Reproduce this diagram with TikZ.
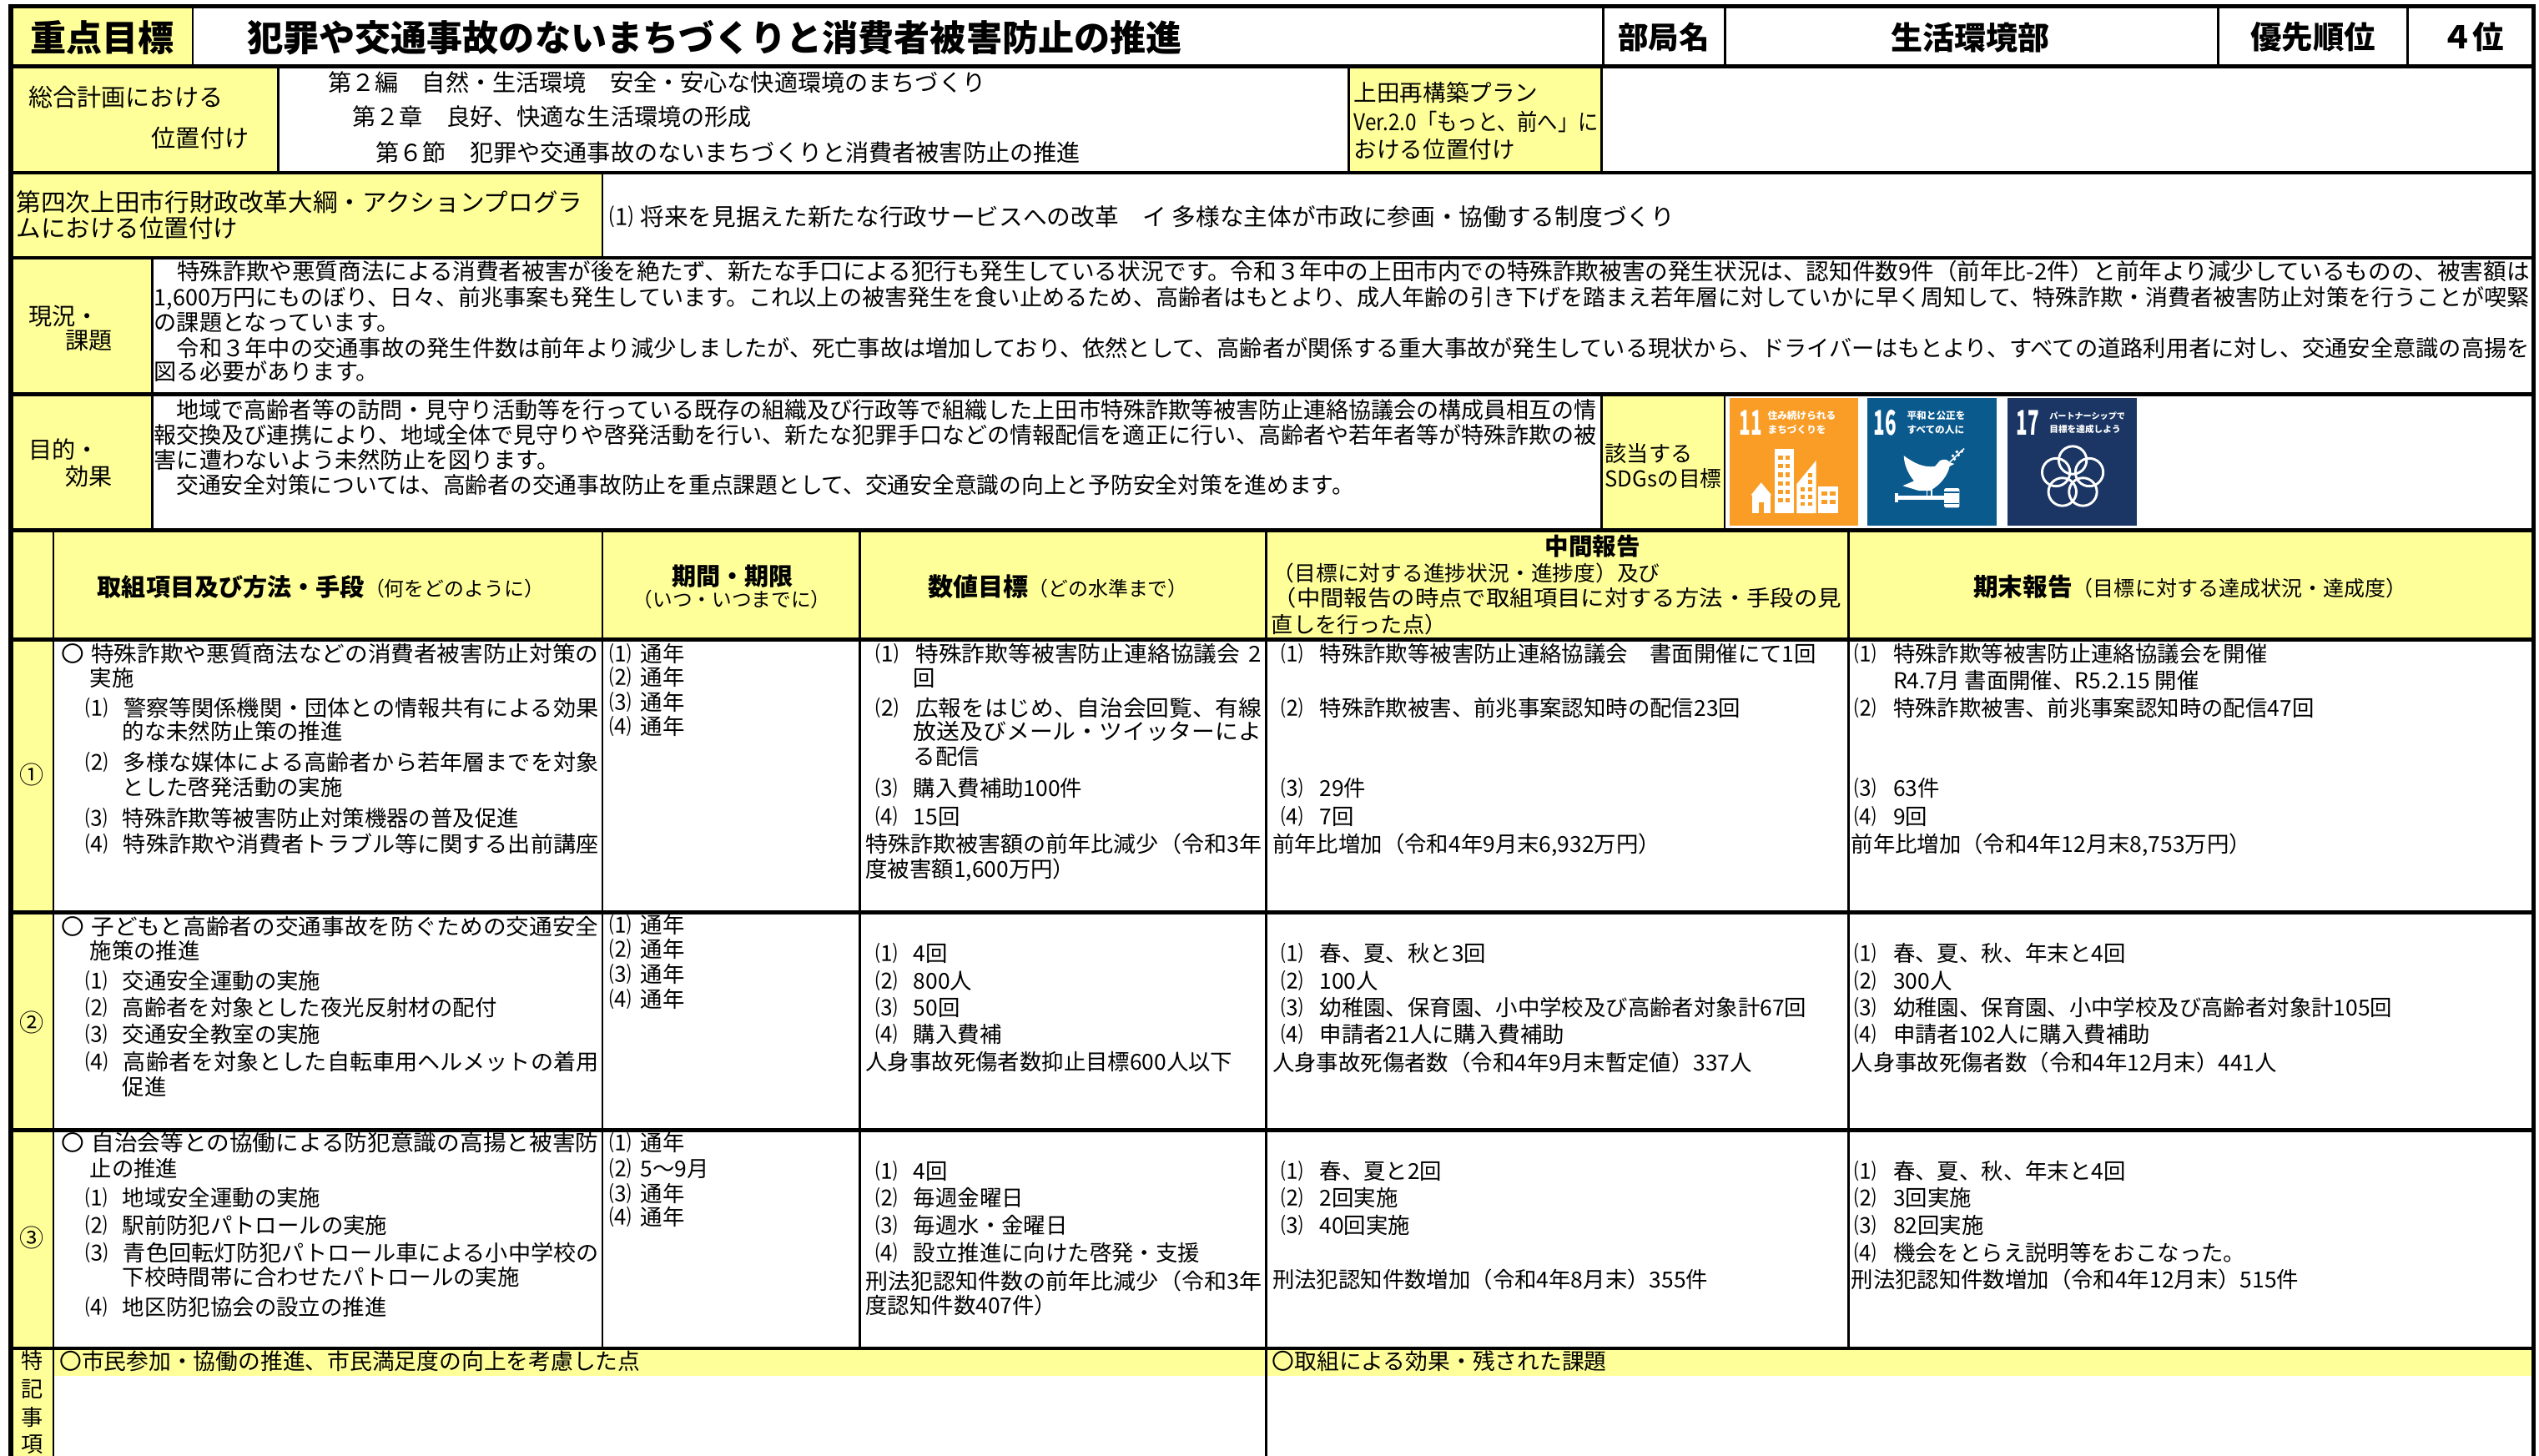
\documentclass[tikz,border=0pt]{standalone}
\usepackage{fontspec}
\setmainfont{Noto Sans CJK JP}
\usepackage{graphicx}
\definecolor{yel}{HTML}{FFFF99}
\definecolor{sdgA}{HTML}{F99D26}
\definecolor{sdgB}{HTML}{0B5A8E}
\definecolor{sdgC}{HTML}{1B3664}
\newcounter{tln}
\newlength\fitw
\newcommand\fitto[2]{\settowidth\fitw{#2}\pgfmathsetmacro\fitr{(#1)/\fitw}\scalebox{\fitr}[1]{#2}}
\newcommand\mkb[2]{\makebox[#1pt][l]{#2}}
\newcommand\txl[4][]{\stepcounter{tln}\node[tx,#1] (n\the\value{tln}) at (#2,#3) {#4};}
\newcommand\txf[5][]{\stepcounter{tln}\node[tx,#1] (n\the\value{tln}) at (#2,#3) {\fitto{#4-#2}{#5}};}
\tikzset{
  fs/.code={\pgfmathsetmacro\fsh{0.88*#1}\pgfmathsetmacro\fsd{0.12*#1}\tikzset{font=\fontsize{#1}{#1}\selectfont,text height=\fsh pt,text depth=\fsd pt}},
  tx/.style={anchor=west,inner sep=0pt,fs=13.6},
  tc/.style={anchor=center},
  thk/.style={line width=2.2pt},
  thn/.style={line width=1.4pt},
  outer/.style={line width=2.6pt},
  icn/.style={text=white,inner sep=0pt,anchor=center,font=\fontsize{21}{21}\selectfont\bfseries},
  icsm/.style={text=white,inner sep=0pt,anchor=west,font=\fontsize{6}{6}\selectfont\bfseries},
}
\begin{document}
\begin{tikzpicture}[x=1pt,y=-1pt]
\useasboundingbox (0,0) rectangle (1568,899);
\fill[white] (0,0) rectangle (1568,899);
% ---------- yellow fills
\fill[yel] (6.7,4) rectangle (119,41);
\fill[yel] (6.7,41) rectangle (172,106.5);
\fill[yel] (833,41) rectangle (989,106.5);
\fill[yel] (6.7,106.5) rectangle (372,159.4);
\fill[yel] (6.7,159.4) rectangle (94,243.5);
\fill[yel] (6.7,243.5) rectangle (94,327.5);
\fill[yel] (989,243.5) rectangle (1065,327.5);
\fill[yel] (6.7,327.5) rectangle (1564.5,395);
\fill[yel] (6.7,395) rectangle (33,899);
\fill[yel] (33,832.6) rectangle (1564.5,849.5);
% ---------- SDG icons
\fill[sdgA] (1068,245.8) rectangle (1147.5,324.6);
\fill[sdgB] (1153,245.8) rectangle (1233,324.6);
\fill[sdgC] (1240,245.8) rectangle (1319.5,324.6);
\node[icn] (g11) at (1081.3,261.3) {\scalebox{0.55}[1]{11}};
\node[icsm] (g11a) at (1091.5,256.8) {住み続けられる};
\node[icsm] (g11b) at (1091.5,265.3) {まちづくりを};
\node[icn] (g16) at (1164.2,261.3) {\scalebox{0.55}[1]{16}};
\node[icsm] (g16a) at (1177.5,256.8) {平和と公正を};
\node[icsm] (g16b) at (1177.5,265.3) {すべての人に};
\node[icn] (g17) at (1252.2,261.3) {\scalebox{0.55}[1]{17}};
\node[icsm,font=\fontsize{5.2}{5.2}\selectfont\bfseries] (g17a) at (1265.5,256.8) {パートナーシップで};
\node[icsm,font=\fontsize{5.5}{5.5}\selectfont\bfseries] (g17b) at (1265.5,265.3) {目標を達成しよう};
% icon 11 pictogram
\fill[white] (1081.3,305.8) -- (1087.6,298) -- (1094.1,305.8) -- cycle;
\fill[white] (1082.2,305.5) rectangle (1093.2,316.9);
\fill[sdgA] (1086,310) rectangle (1089.3,316.9);
\fill[white] (1095.9,277.4) rectangle (1107.9,316.9);
\foreach \yy in {281.5,286.7,291.9,297.1,302.3,307.5}{
  \fill[sdgA] (1098.3,\yy) rectangle ++(2.6,2.6);
  \fill[sdgA] (1102.9,\yy) rectangle ++(2.6,2.6);}
\fill[white] (1109.6,298.9) -- (1121.6,284.3) -- (1121.6,316.9) -- (1109.6,316.9) -- cycle;
\foreach \yy in {301,305.5,310}{
  \fill[sdgA] (1111.8,\yy) rectangle ++(2.5,2.5);
  \fill[sdgA] (1116.5,\yy) rectangle ++(2.5,2.5);}
\fill[sdgA] (1116.5,292) rectangle ++(2.5,2.5);
\fill[sdgA] (1116.5,296.5) rectangle ++(2.5,2.5);
\fill[white] (1123,300.6) rectangle (1135.4,316.9);
\foreach \yy in {303.5,308.5}{
  \fill[sdgA] (1124.8,\yy) rectangle ++(3.6,2.6);
  \fill[sdgA] (1130,\yy) rectangle ++(3.6,2.6);}
% icon 16 pictogram
\fill[white] (1175.7,281.4) .. controls (1182,286) and (1188,289) .. (1195,288)
  -- (1198,284.5) .. controls (1201,283) and (1203,284) .. (1204,285.5) -- (1207,286.5) -- (1204,288)
  .. controls (1203,293) and (1199,299) .. (1192,303) -- (1185,303) -- (1175,300) -- (1182,297)
  .. controls (1178,292) and (1176,287) .. cycle;
\draw[white,line width=0.8pt] (1204,285.5) -- (1213,277);
\foreach \px/\py in {1207/283.5,1209.5/281,1211.5/278.8,1206/281.5,1208.5/279}
  \fill[white] (\px,\py) circle (1pt);
\draw[white,line width=0.9pt] (1190,302) -- (1190,306.5) (1193,302) -- (1193,306.5);
\fill[white] (1171.5,306.1) rectangle (1200.7,308.9);
\fill[white] (1170.3,304.6) rectangle (1172.5,310.4);
\fill[white,rounded corners=0.8pt] (1200.7,301.5) rectangle (1210.1,313.5);
\fill[sdgB] (1200.7,303.6) rectangle (1210.1,304.4);
\fill[sdgB] (1200.7,310.6) rectangle (1210.1,311.4);
% icon 17 pictogram
\foreach \a in {90,162,234,306,18}
  \draw[white,line width=1.5pt] ({1280+10.8*cos(\a)},{295-10.8*sin(\a)}) circle (8.6pt);
% ---------- lines
\foreach \y in {41,106.5,159.4,243.5,327.5,395,563.4,698,832.6}
  \draw[thk] (6.7,\y) -- (1564.5,\y);
\foreach \x in {119,990,1065.5,1370,1487} \draw[thn] (\x,4) -- (\x,41);
\foreach \x in {172,833,989} \draw[thn] (\x,41) -- (\x,106.5);
\draw[thn] (372,106.5) -- (372,159.4);
\draw[thn] (94,159.4) -- (94,327.5);
\draw[thn] (989,243.5) -- (989,327.5);
\draw[thn] (1065,243.5) -- (1065,327.5);
\draw[thn] (33,327.5) -- (33,899);
\draw[thn] (782,327.5) -- (782,899);
\foreach \x in {372,531,1141.5} \draw[thn] (\x,327.5) -- (\x,832.6);
\draw[outer] (6.7,899) -- (6.7,4) -- (1564.5,4) -- (1564.5,899);
% ---------- row 1
\txl[tc,fs=22.2]{63}{23}{\bfseries 重点目標}
\txl[fs=22.2]{152.5}{23}{\bfseries 犯罪や交通事故のないまちづくりと消費者被害防止の推進}
\txl[tc,fs=18.8]{1027.5}{23}{\bfseries 部局名}
\txl[tc,fs=19.6]{1217}{23}{\bfseries 生活環境部}
\txl[tc,fs=19.3]{1428.5}{23}{\bfseries 優先順位}
\txl[tc,fs=19.3]{1527}{23}{\bfseries ４位}
% ---------- row 2
\txl[fs=15]{17.5}{60}{総合計画における}
\txl[fs=15]{93.5}{85}{位置付け}
\txl[fs=14.5]{202.5}{50.7}{第２編　自然・生活環境　安全・安心な快適環境のまちづくり}
\txl[fs=14.5]{217.5}{72}{第２章　良好、快適な生活環境の形成}
\txl[fs=14.5]{232}{94}{第６節　犯罪や交通事故のないまちづくりと消費者被害防止の推進}
\txl[fs=14.2]{836}{57}{上田再構築プラン}
\txf[fs=14.2]{836}{75}{987}{Ver.2.0「もっと、前へ」に}
\txl[fs=14.2]{836}{92}{おける位置付け}
% ---------- row 3
\txf[fs=15.2]{10}{125}{359.6}{第四次上田市行財政改革大綱・アクションプログラ}
\txl[fs=15.2]{10}{141}{ムにおける位置付け}
\txf[fs=14.6]{376}{134}{1034}{\mkb{19}{⑴}将来を見据えた新たな行政サービスへの改革　イ 多様な主体が市政に参画・協働する制度づくり}
% ---------- 現況・課題
\txl[fs=14.5]{17.5}{195}{現況・}
\txl[fs=14.5]{40}{210}{課題}
\txf[fs=14]{95}{167.5}{1562}{　特殊詐欺や悪質商法による消費者被害が後を絶たず、新たな手口による犯行も発生している状況です。令和３年中の上田市内での特殊詐欺被害の発生状況は、認知件数9件（前年比-2件）と前年より減少しているものの、被害額は}
\txf[fs=14]{95}{183.4}{1562}{1,600万円にものぼり、日々、前兆事案も発生しています。これ以上の被害発生を食い止めるため、高齢者はもとより、成人年齢の引き下げを踏まえ若年層に対していかに早く周知して、特殊詐欺・消費者被害防止対策を行うことが喫緊}
\txl[fs=14]{95}{199.2}{の課題となっています。}
\txf[fs=14]{95}{215.2}{1562}{　令和３年中の交通事故の発生件数は前年より減少しましたが、死亡事故は増加しており、依然として、高齢者が関係する重大事故が発生している現状から、ドライバーはもとより、すべての道路利用者に対し、交通安全意識の高揚を}
\txl[fs=14]{95}{229.3}{図る必要があります。}
% ---------- 目的・効果
\txl[fs=14.5]{17.5}{277.5}{目的・}
\txl[fs=14.5]{40}{294}{効果}
\txf[fs=14]{95}{253}{986}{　地域で高齢者等の訪問・見守り活動等を行っている既存の組織及び行政等で組織した上田市特殊詐欺等被害防止連絡協議会の構成員相互の情}
\txf[fs=14]{95}{268.5}{986}{報交換及び連携により、地域全体で見守りや啓発活動を行い、新たな犯罪手口などの情報配信を適正に行い、高齢者や若年者等が特殊詐欺の被}
\txl[fs=14]{95}{284}{害に遭わないよう未然防止を図ります。}
\txf[fs=14]{95}{299.5}{836}{　交通安全対策については、高齢者の交通事故防止を重点課題として、交通安全意識の向上と予防安全対策を進めます。}
\txl[fs=13.5]{991}{280}{該当する}
\txf[fs=13.5]{991}{295.5}{1063}{SDGsの目標}
% ---------- header
\txl[fs=15]{60}{362.4}{\textbf{取組項目及び方法・手段}{\fontsize{12.3}{12.3}\selectfont （何をどのように）}}
\txl[tc,fs=15]{452.5}{355.7}{\textbf{期間・期限}}
\txl[tc,fs=12.2]{452}{370.1}{（いつ・いつまでに）}
\txl[fs=15.5]{573}{362.4}{\textbf{数値目標}{\fontsize{12.3}{12.3}\selectfont （どの水準まで）}}
\txl[tc,fs=14.7]{983.5}{337.5}{\textbf{中間報告}}
\txf[fs=13]{786}{353.8}{1025}{（目標に対する進捗状況・進捗度）及び}
\txf[fs=13.5]{786}{369.3}{1137}{（中間報告の時点で取組項目に対する方法・手段の見}
\txl[fs=13.5]{785}{385.6}{直しを行った点）}
\txl[fs=15.3]{1218.5}{362.4}{\textbf{期末報告}{\fontsize{12.9}{12.9}\selectfont （目標に対する達成状況・達成度）}}
% ---------- number column
\txl[tc,fs=15]{19.8}{478.3}{①}
\txl[tc,fs=15]{19.8}{631.4}{②}
\txl[tc,fs=15]{19.8}{764.5}{③}
\txl[tc,fs=13.5]{19.8}{840}{特}
\txl[tc,fs=13.5]{19.8}{857.5}{記}
\txl[tc,fs=13.5]{19.8}{875}{事}
\txl[tc,fs=13.5]{19.8}{891.6}{項}
% ---------- row 1 (①)
\txf{37.7}{403.6}{369.5}{\mkb{17.6}{〇}特殊詐欺や悪質商法などの消費者被害防止対策の}
\txl{55.3}{418.8}{実施}
\txf{52.7}{437.1}{369.5}{\mkb{22.7}{⑴}警察等関係機関・団体との情報共有による効果}
\txl{75.4}{451.7}{的な未然防止策の推進}
\txf{52.7}{470.6}{369.5}{\mkb{22.7}{⑵}多様な媒体による高齢者から若年層までを対象}
\txl{75.4}{486.1}{とした啓発活動の実施}
\txl{52.7}{505}{\mkb{22.7}{⑶}特殊詐欺等被害防止対策機器の普及促進}
\txf{52.7}{521.3}{369.5}{\mkb{22.7}{⑷}特殊詐欺や消費者トラブル等に関する出前講座}
\txl{376}{403.6}{\mkb{19.5}{⑴}通年}
\txl{376}{418.2}{\mkb{19.5}{⑵}通年}
\txl{376}{433.7}{\mkb{19.5}{⑶}通年}
\txl{376}{448.3}{\mkb{19.5}{⑷}通年}
\txf{540.4}{403.6}{779}{\mkb{23.6}{⑴}特殊詐欺等被害防止連絡協議会\kern5pt 2}
\txl{564}{418.8}{回}
\txf{540.4}{437.1}{779}{\mkb{23.6}{⑵}広報をはじめ、自治会回覧、有線}
\txf{564}{451.7}{779}{放送及びメール・ツイッターによ}
\txl{564}{467.2}{る配信}
\txl{540.4}{486.9}{\mkb{23.6}{⑶}購入費補助100件}
\txl{540.4}{504.1}{\mkb{23.6}{⑷}15回}
\txf{534.4}{521.3}{779}{特殊詐欺被害額の前年比減少（令和3年}
\txl{534.4}{536.7}{度被害額1,600万円）}
\txl{790.8}{403.6}{\mkb{24}{⑴}特殊詐欺等被害防止連絡協議会　書面開催にて1回}
\txl{790.8}{437.1}{\mkb{24}{⑵}特殊詐欺被害、前兆事案認知時の配信23回}
\txl{790.8}{486.9}{\mkb{24}{⑶}29件}
\txl{790.8}{504.1}{\mkb{24}{⑷}7回}
\txl{785.7}{521.3}{前年比増加（令和4年9月末6,932万円）}
\txl{1145}{403.6}{\mkb{24}{⑴}特殊詐欺等被害防止連絡協議会を開催}
\txl{1169}{420.1}{R4.7月 書面開催、R5.2.15 開催}
\txl{1145}{437.1}{\mkb{24}{⑵}特殊詐欺被害、前兆事案認知時の配信47回}
\txl{1145}{486.9}{\mkb{24}{⑶}63件}
\txl{1145}{504.1}{\mkb{24}{⑷}9回}
\txl{1143}{521.3}{前年比増加（令和4年12月末8,753万円）}
% ---------- row 2 (②)
\txf{37.7}{572.4}{369.5}{\mkb{17.6}{〇}子どもと高齢者の交通事故を防ぐための交通安全}
\txl{55.3}{587}{施策の推進}
\txl{52.7}{605.7}{\mkb{22.7}{⑴}交通安全運動の実施}
\txl{52.7}{622.4}{\mkb{22.7}{⑵}高齢者を対象とした夜光反射材の配付}
\txl{52.7}{638.9}{\mkb{22.7}{⑶}交通安全教室の実施}
\txf{52.7}{655.7}{369.5}{\mkb{22.7}{⑷}高齢者を対象とした自転車用ヘルメットの着用}
\txl{75.4}{671.1}{促進}
\txl{376}{571.3}{\mkb{19.5}{⑴}通年}
\txl{376}{586.3}{\mkb{19.5}{⑵}通年}
\txl{376}{601.4}{\mkb{19.5}{⑶}通年}
\txl{376}{617}{\mkb{19.5}{⑷}通年}
\txl{540.4}{588.5}{\mkb{23.6}{⑴}4回}
\txl{540.4}{605.7}{\mkb{23.6}{⑵}800人}
\txl{540.4}{622.4}{\mkb{23.6}{⑶}50回}
\txl{540.4}{638.9}{\mkb{23.6}{⑷}購入費補}
\txl{534.4}{655.7}{人身事故死傷者数抑止目標600人以下}
\txl{790.8}{588.5}{\mkb{24}{⑴}春、夏、秋と3回}
\txl{790.8}{605.7}{\mkb{24}{⑵}100人}
\txl{790.8}{622.4}{\mkb{24}{⑶}幼稚園、保育園、小中学校及び高齢者対象計67回}
\txl{790.8}{638.9}{\mkb{24}{⑷}申請者21人に購入費補助}
\txl{785.7}{656}{人身事故死傷者数（令和4年9月末暫定値）337人}
\txl{1145}{588.5}{\mkb{24}{⑴}春、夏、秋、年末と4回}
\txl{1145}{605.7}{\mkb{24}{⑵}300人}
\txl{1145}{622.4}{\mkb{24}{⑶}幼稚園、保育園、小中学校及び高齢者対象計105回}
\txl{1145}{638.9}{\mkb{24}{⑷}申請者102人に購入費補助}
\txl{1143}{656}{人身事故死傷者数（令和4年12月末）441人}
% ---------- row 3 (③)
\txf{37.7}{705.9}{369.5}{\mkb{17.6}{〇}自治会等との協働による防犯意識の高揚と被害防}
\txl{55.3}{721.6}{止の推進}
\txl{52.7}{739.9}{\mkb{22.7}{⑴}地域安全運動の実施}
\txl{52.7}{756.6}{\mkb{22.7}{⑵}駅前防犯パトロールの実施}
\txf{52.7}{773.8}{369.5}{\mkb{22.7}{⑶}青色回転灯防犯パトロール車による小中学校の}
\txl{75.4}{788.8}{下校時間帯に合わせたパトロールの実施}
\txl{52.7}{807.4}{\mkb{22.7}{⑷}地区防犯協会の設立の推進}
\txl{376}{705.9}{\mkb{19.5}{⑴}通年}
\txl{376}{721.6}{\mkb{19.5}{⑵}5～9月}
\txl{376}{737.3}{\mkb{19.5}{⑶}通年}
\txl{376}{751.7}{\mkb{19.5}{⑷}通年}
\txl{540.4}{723.1}{\mkb{23.6}{⑴}4回}
\txl{540.4}{739.9}{\mkb{23.6}{⑵}毎週金曜日}
\txl{540.4}{756.6}{\mkb{23.6}{⑶}毎週水・金曜日}
\txl{540.4}{773.8}{\mkb{23.6}{⑷}設立推進に向けた啓発・支援}
\txf{534.4}{791}{779}{刑法犯認知件数の前年比減少（令和3年}
\txl{534.4}{806}{度認知件数407件）}
\txl{790.8}{723.1}{\mkb{24}{⑴}春、夏と2回}
\txl{790.8}{739.9}{\mkb{24}{⑵}2回実施}
\txl{790.8}{756.6}{\mkb{24}{⑶}40回実施}
\txl{785.7}{790}{刑法犯認知件数増加（令和4年8月末）355件}
\txl{1145}{723.1}{\mkb{24}{⑴}春、夏、秋、年末と4回}
\txl{1145}{739.9}{\mkb{24}{⑵}3回実施}
\txl{1145}{756.6}{\mkb{24}{⑶}82回実施}
\txl{1145}{773.8}{\mkb{24}{⑷}機会をとらえ説明等をおこなった。}
\txl{1143}{790}{刑法犯認知件数増加（令和4年12月末）515件}
% ---------- 特記事項
\txl[fs=13.8]{36.5}{840.8}{〇市民参加・協働の推進、市民満足度の向上を考慮した点}
\txl[fs=13.8]{785.5}{840.8}{〇取組による効果・残された課題}
\end{tikzpicture}
\end{document}
